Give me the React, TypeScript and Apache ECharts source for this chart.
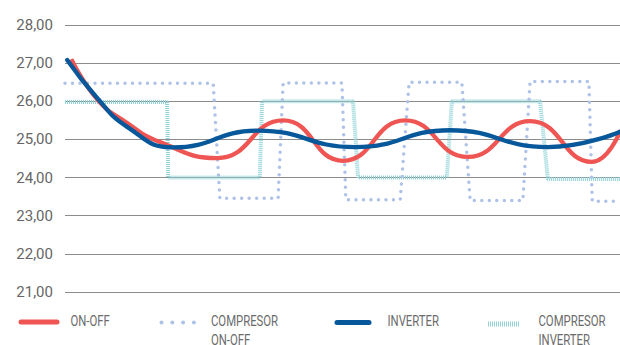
import React, { useEffect, useRef } from "react";
import * as echarts from "echarts";

// time axis (arbitrary units 0..100) and temperatures (°C)
const onOff: [number, number][] = [
  [1.3, 27.06], [6.0, 26.02], [11.2, 25.43], [17.1, 24.93], [27.4, 24.51],
  [39.3, 25.5], [50.1, 24.44], [61.3, 25.5], [72.6, 24.54], [83.8, 25.48],
  [94.9, 24.41], [100, 25.2],
];
const inverter: [number, number][] = [
  [0.4, 27.08], [5.6, 26.12], [11.2, 25.33], [19.5, 24.79],
  [34.8, 25.23], [52.3, 24.8], [69.4, 25.24], [87.0, 24.8], [100, 25.2],
];
const compOnOff: [number, number][] = [
  [0, 26.47], [26.7, 26.47], [27.9, 23.46], [38.4, 23.46], [39.3, 26.48], [49.9, 26.48],
  [50.6, 23.42], [60.4, 23.42], [62.0, 26.5], [71.5, 26.5], [73.0, 23.4], [82.5, 23.4],
  [83.8, 26.52], [94.4, 26.52], [95.0, 23.38], [100, 23.38],
];
const compInverter: [number, number][] = [
  [0, 25.98], [18.4, 25.98], [18.6, 24.0], [35.1, 24.0], [35.5, 26.0], [51.9, 26.0],
  [52.8, 24.0], [68.8, 24.0], [69.7, 26.0], [85.6, 26.0], [87.0, 23.96], [100, 23.96],
];
const yTicks = { min: 21, max: 28, step: 1 };
const legendLabels = ["ON-OFF", "COMPRESOR\nON-OFF", "INVERTER", "COMPRESOR\nINVERTER"];

const RED = "#ef5552";
const BLUE = "#07589a";
const DOT = "#aec2e8";
const CYAN = "#8fd2d6";

export default function App() {
  const ref = useRef<HTMLDivElement>(null);
  useEffect(() => {
    if (!ref.current) return;
    const chart = echarts.init(ref.current, null, { renderer: "svg" });
    const textStyle = (text: string) => ({
      text,
      fill: "#6b6b6b",
      fontSize: 14,
      fontFamily: "Roboto",
      lineHeight: 19.5,
      verticalAlign: "top",
      align: "left",
    });
    chart.setOption({
      animation: false,
      grid: { left: 65, right: 0, top: 25, bottom: 53 },
      xAxis: { type: "value", min: 0, max: 100, show: false },
      yAxis: {
        type: "value",
        min: yTicks.min,
        max: yTicks.max,
        interval: yTicks.step,
        axisLine: { show: false },
        axisTick: { show: false },
        axisLabel: {
          margin: 12,
          color: "#666",
          fontSize: 15,
          fontFamily: "Roboto",
          formatter: (v: number) => v.toFixed(2).replace(".", ","),
        },
        splitLine: { lineStyle: { color: "#8c8c8c", width: 1 } },
      },
      series: [
        {
          name: "COMPRESOR INVERTER",
          type: "line",
          data: compInverter,
          symbol: "none",
          lineStyle: { color: CYAN, width: 4, type: [1, 1] },
        },
        {
          name: "COMPRESOR ON-OFF",
          type: "line",
          data: compOnOff,
          symbol: "none",
          lineStyle: { color: DOT, width: 3.5, type: [0, 7.5], cap: "round" },
        },
        {
          name: "ON-OFF",
          type: "line",
          data: onOff,
          symbol: "none",
          smooth: 0.5,
          lineStyle: { color: RED, width: 4.3, cap: "round" },
        },
        {
          name: "INVERTER",
          type: "line",
          data: inverter,
          symbol: "none",
          smooth: 0.5,
          lineStyle: { color: BLUE, width: 4.3, cap: "round" },
        },
      ],
      graphic: [
        { type: "line", shape: { x1: 21, y1: 322, x2: 57, y2: 322 }, style: { stroke: RED, lineWidth: 5, lineCap: "round" } },
        { type: "text", x: 70.5, y: 311, scaleX: 0.81, style: textStyle(legendLabels[0]) },
        { type: "line", shape: { x1: 161.5, y1: 322.5, x2: 194, y2: 322.5 }, style: { stroke: DOT, lineWidth: 4, lineCap: "round", lineDash: [0, 10.8] } },
        { type: "text", x: 211, y: 311, scaleX: 0.81, style: textStyle(legendLabels[1]) },
        { type: "line", shape: { x1: 337, y1: 322.5, x2: 369, y2: 322.5 }, style: { stroke: BLUE, lineWidth: 5, lineCap: "round" } },
        { type: "text", x: 387.5, y: 311, scaleX: 0.81, style: textStyle(legendLabels[2]) },
        { type: "line", shape: { x1: 488, y1: 324, x2: 520, y2: 324 }, style: { stroke: CYAN, lineWidth: 5, lineDash: [1, 1] } },
        { type: "text", x: 538.5, y: 311, scaleX: 0.81, style: textStyle(legendLabels[3]) },
      ],
    });
    return () => chart.dispose();
  }, []);
  return (
    <div
      ref={ref}
      style={{ position: "fixed", left: 0, top: 0, width: 620, height: 345, background: "#fff" }}
    />
  );
}
